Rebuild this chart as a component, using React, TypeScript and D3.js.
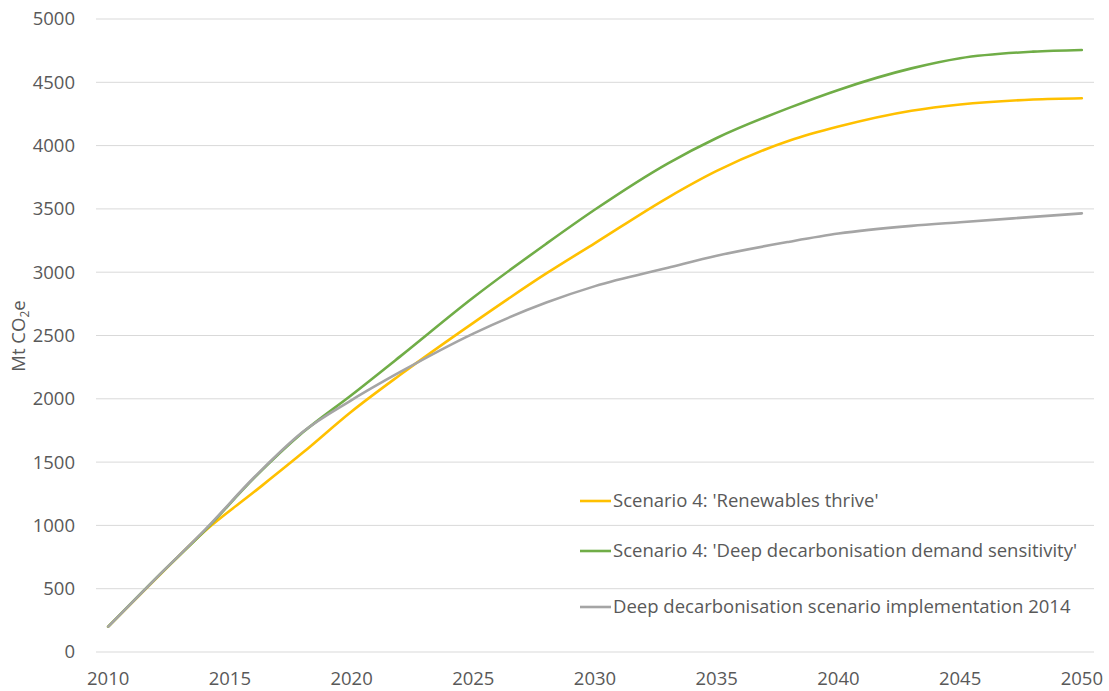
import {useEffect, useRef} from "react";
import * as d3 from "d3";

// values (Mt CO2e)
const years = [2010, 2012, 2014, 2016, 2018, 2020, 2022, 2025, 2028, 2030, 2033, 2035, 2038, 2040, 2043, 2045, 2048, 2050];
const renewables = [200, 585, 960, 1265, 1575, 1900, 2190, 2600, 2990, 3230, 3590, 3800, 4040, 4150, 4275, 4325, 4364, 4374];
const demandSensitivity = [200, 590, 965, 1375, 1735, 2030, 2335, 2800, 3225, 3495, 3860, 4060, 4300, 4440, 4610, 4690, 4742, 4755];
const implementation2014 = [200, 590, 970, 1380, 1740, 1990, 2212, 2515, 2760, 2890, 3035, 3130, 3241, 3305, 3366, 3395, 3437, 3465];

const seriesNames = [
    "Scenario 4: 'Renewables thrive'",
    "Scenario 4: 'Deep decarbonisation demand sensitivity'",
    "Deep decarbonisation scenario implementation 2014",
];
const seriesColors = ["#FFC000", "#70AD47", "#A5A5A5"];
const yTicks = [0, 500, 1000, 1500, 2000, 2500, 3000, 3500, 4000, 4500, 5000];
const xTicks = [2010, 2015, 2020, 2025, 2030, 2035, 2040, 2045, 2050];

const App = () => {
    const svgRef = useRef<SVGSVGElement | null>(null);

    useEffect(() => {
        const width = 1109;
        const height = 691;
        const svg = d3.select(svgRef.current)
            .attr("width", width)
            .attr("height", height);
        svg.selectAll("*").remove();

        const font = "'Open Sans', sans-serif";
        const fontSize = 18.5;
        const textColor = "#595959";

        // category axis: points sit half a category in from the plot edges
        const xScale = d3.scaleLinear().domain([2009.5, 2050.5]).range([96, 1094]);
        const yScale = d3.scaleLinear().domain([0, 5000]).range([652, 19]);

        // gridlines
        svg.append("g")
            .selectAll("line")
            .data(yTicks)
            .enter()
            .append("line")
            .attr("x1", 96)
            .attr("x2", 1094)
            .attr("y1", (d) => yScale(d))
            .attr("y2", (d) => yScale(d))
            .attr("stroke", "#D9D9D9")
            .attr("stroke-width", 1);

        // y labels
        svg.append("g")
            .selectAll("text")
            .data(yTicks)
            .enter()
            .append("text")
            .attr("x", 75)
            .attr("y", (d) => yScale(d))
            .attr("dy", "0.35em")
            .attr("text-anchor", "end")
            .attr("font-family", font)
            .attr("font-size", fontSize)
            .attr("fill", textColor)
            .text((d) => d);

        // x labels
        svg.append("g")
            .selectAll("text")
            .data(xTicks)
            .enter()
            .append("text")
            .attr("x", (d) => xScale(d))
            .attr("y", 685)
            .attr("text-anchor", "middle")
            .attr("font-family", font)
            .attr("font-size", fontSize)
            .attr("fill", textColor)
            .text((d) => d);

        // y title
        const title = svg.append("text")
            .attr("transform", "translate(25,336) rotate(-90)")
            .attr("text-anchor", "middle")
            .attr("font-family", font)
            .attr("font-size", fontSize)
            .attr("fill", textColor);
        title.append("tspan").text("Mt CO");
        title.append("tspan").attr("font-size", 12).attr("dy", 4).text("2");
        title.append("tspan").attr("dy", -4).text("e");

        const line = d3.line<number>()
            .x((_, i) => xScale(years[i]))
            .y((d) => yScale(d))
            .curve(d3.curveMonotoneX);

        const allSeries = [renewables, demandSensitivity, implementation2014];
        // draw order: yellow, green, grey on top
        allSeries.forEach((values, i) => {
            svg.append("path")
                .datum(values)
                .attr("d", line)
                .attr("fill", "none")
                .attr("stroke", seriesColors[i])
                .attr("stroke-width", 2.6)
                .attr("stroke-linecap", "round");
        });

        // legend
        const legendY = [501, 551, 607];
        const legend = svg.append("g");
        seriesNames.forEach((name, i) => {
            legend.append("line")
                .attr("x1", 580)
                .attr("x2", 611)
                .attr("y1", legendY[i])
                .attr("y2", legendY[i])
                .attr("stroke", seriesColors[i])
                .attr("stroke-width", 2.6);
            legend.append("text")
                .attr("x", 613)
                .attr("y", legendY[i])
                .attr("dy", "0.35em")
                .attr("font-family", font)
                .attr("font-size", fontSize)
                .attr("fill", textColor)
                .text(name);
        });
    }, []);

    return <svg ref={svgRef} style={{display: "block", position: "absolute", left: 0, top: 0}}></svg>;
};

export default App;
